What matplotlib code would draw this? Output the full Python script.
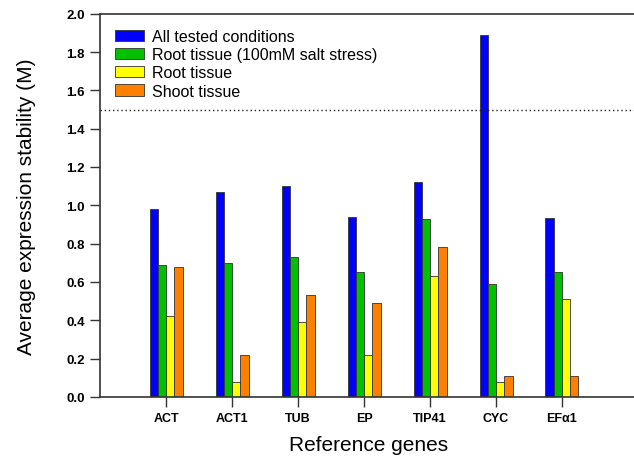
import matplotlib
matplotlib.use("Agg")
import matplotlib.pyplot as plt
import numpy as np

plt.rcParams["font.family"] = ["Liberation Sans", "DejaVu Sans"]

genes = ["ACT", "ACT1", "TUB", "EP", "TIP41", "CYC", "EFα1"]
series_names = [
    "All tested conditions",
    "Root tissue (100mM salt stress)",
    "Root tissue",
    "Shoot tissue",
]
all_tested = [0.98, 1.07, 1.10, 0.94, 1.12, 1.89, 0.935]
root_salt = [0.69, 0.70, 0.73, 0.65, 0.93, 0.59, 0.65]
root = [0.42, 0.08, 0.39, 0.22, 0.63, 0.08, 0.51]
shoot = [0.68, 0.22, 0.53, 0.49, 0.78, 0.11, 0.11]
threshold = 1.5

colors = ["#0000ff", "#00c000", "#ffff00", "#ff8000"]

fig = plt.figure(figsize=(6.34, 4.60), dpi=100)
# right edge of the frame sits just past the figure, as in the original crop
ax = fig.add_axes([0.158, 0.135, 0.846, 0.833])

x = np.arange(1, len(genes) + 1)
width = 0.125
offsets = [-1.5 * width, -0.5 * width, 0.5 * width, 1.5 * width]
for vals, off, col, name in zip([all_tested, root_salt, root, shoot], offsets, colors, series_names):
    ax.bar(x + off, vals, width, color=col, edgecolor="#333333", linewidth=0.6, label=name)

ax.axhline(threshold, color="#222222", linestyle=(0, (1, 2)), linewidth=1.0)

ax.set_xlim(0, 8.13)
ax.set_ylim(0, 2.0)
yt = np.arange(0, 2.01, 0.2)
ax.set_yticks(yt)
ax.set_yticklabels([f"{v:.1f}" for v in yt], fontweight="bold", fontsize=9.5)
ax.set_xticks(x)
ax.set_xticklabels(genes, fontweight="bold", fontsize=9)
ax.tick_params(direction="out", length=7, width=1.0, color="#333333", pad=4)
for sp in ax.spines.values():
    sp.set_linewidth(1.2)
    sp.set_color("#333333")

ax.set_ylabel("Average expression stability (M)", fontsize=15, labelpad=22)
ax.set_xlabel("Reference genes", fontsize=15, labelpad=8)

ax.legend(loc="upper left", bbox_to_anchor=(0.01, 0.985), frameon=False, fontsize=11.5,
          handlelength=1.8, handleheight=0.7, labelspacing=0.2, handletextpad=0.5,
          borderaxespad=0.2)

fig.savefig("out.png", dpi=100)
